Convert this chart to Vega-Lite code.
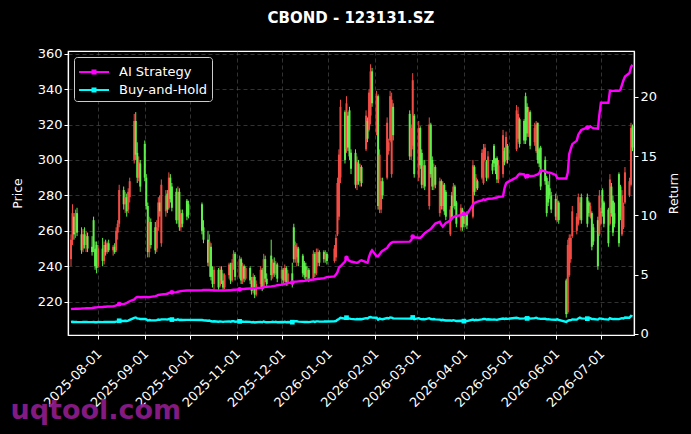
{
  "$schema": "https://vega.github.io/schema/vega-lite/v6.json",
  "width": 566,
  "height": 284,
  "autosize": "none",
  "padding": {"left": 68, "top": 51, "right": 57, "bottom": 99},
  "background": "#000000",
  "title": {"text": "CBOND - 123131.SZ", "color": "#ffffff", "fontSize": 15, "fontWeight": "bold", "font": "DejaVu Sans", "anchor": "middle", "offset": 22},
  "data": {"values": [
    {"d":"2025-07-14","o":244,"h":258,"l":240,"c":255,"a":2.08,"b":1.00},
    {"d":"2025-07-15","o":255,"h":275,"l":252,"c":270,"a":2.10,"b":1.02},
    {"d":"2025-07-16","o":268,"h":270,"l":255,"c":258,"a":2.10,"b":1.00},
    {"d":"2025-07-17","o":259,"h":272,"l":256,"c":270,"a":2.12,"b":1.01},
    {"d":"2025-07-18","o":270,"h":273,"l":257,"c":259,"a":2.12,"b":1.00},
    {"d":"2025-07-21","o":258,"h":262,"l":247,"c":249,"a":2.14,"b":0.99},
    {"d":"2025-07-22","o":250,"h":261,"l":248,"c":258,"a":2.15,"b":1.00},
    {"d":"2025-07-23","o":258,"h":262,"l":250,"c":252,"a":2.15,"b":1.00},
    {"d":"2025-07-24","o":252,"h":260,"l":248,"c":257,"a":2.16,"b":1.01},
    {"d":"2025-07-25","o":257,"h":259,"l":248,"c":250,"a":2.16,"b":1.00},
    {"d":"2025-07-28","o":251,"h":257,"l":246,"c":248,"a":2.18,"b":0.99},
    {"d":"2025-07-29","o":266,"h":268,"l":248,"c":250,"a":2.20,"b":1.00},
    {"d":"2025-07-30","o":250,"h":254,"l":238,"c":240,"a":2.22,"b":0.98},
    {"d":"2025-07-31","o":252,"h":254,"l":236,"c":239,"a":2.23,"b":0.98},
    {"d":"2025-08-01","o":240,"h":252,"l":239,"c":250,"a":2.25,"b":1.00},
    {"d":"2025-08-04","o":250,"h":256,"l":240,"c":243,"a":2.26,"b":0.99},
    {"d":"2025-08-05","o":243,"h":254,"l":241,"c":252,"a":2.28,"b":1.00},
    {"d":"2025-08-06","o":252,"h":255,"l":246,"c":248,"a":2.28,"b":1.00},
    {"d":"2025-08-07","o":248,"h":254,"l":247,"c":253,"a":2.30,"b":1.01},
    {"d":"2025-08-08","o":253,"h":255,"l":248,"c":249,"a":2.30,"b":1.00},
    {"d":"2025-08-11","o":249,"h":252,"l":246,"c":251,"a":2.33,"b":1.00},
    {"d":"2025-08-12","o":251,"h":253,"l":247,"c":248,"a":2.36,"b":1.00},
    {"d":"2025-08-13","o":249,"h":262,"l":248,"c":260,"a":2.40,"b":1.03},
    {"d":"2025-08-14","o":259,"h":266,"l":255,"c":264,"a":2.45,"b":1.05},
    {"d":"2025-08-15","o":264,"h":286,"l":262,"c":283,"a":2.50,"b":1.10},
    {"d":"2025-08-18","o":283,"h":285,"l":272,"c":275,"a":2.52,"b":1.08},
    {"d":"2025-08-19","o":275,"h":282,"l":270,"c":279,"a":2.55,"b":1.10},
    {"d":"2025-08-20","o":279,"h":281,"l":268,"c":271,"a":2.60,"b":1.08},
    {"d":"2025-08-21","o":272,"h":284,"l":270,"c":282,"a":2.68,"b":1.12},
    {"d":"2025-08-22","o":279,"h":290,"l":276,"c":288,"a":2.75,"b":1.18},
    {"d":"2025-08-25","o":300,"h":326,"l":298,"c":322,"a":2.90,"b":1.35},
    {"d":"2025-08-26","o":322,"h":327,"l":300,"c":303,"a":3.05,"b":1.38},
    {"d":"2025-08-27","o":304,"h":310,"l":287,"c":290,"a":3.10,"b":1.30},
    {"d":"2025-08-28","o":290,"h":302,"l":288,"c":299,"a":3.10,"b":1.28},
    {"d":"2025-08-29","o":298,"h":300,"l":282,"c":285,"a":3.08,"b":1.25},
    {"d":"2025-09-01","o":309,"h":311,"l":288,"c":290,"a":3.10,"b":1.26},
    {"d":"2025-09-02","o":290,"h":292,"l":272,"c":274,"a":3.10,"b":1.22},
    {"d":"2025-09-03","o":274,"h":276,"l":245,"c":248,"a":3.08,"b":1.12},
    {"d":"2025-09-04","o":248,"h":268,"l":245,"c":265,"a":3.10,"b":1.16},
    {"d":"2025-09-05","o":265,"h":267,"l":250,"c":252,"a":3.12,"b":1.14},
    {"d":"2025-09-08","o":262,"h":265,"l":247,"c":249,"a":3.18,"b":1.13},
    {"d":"2025-09-09","o":250,"h":266,"l":248,"c":262,"a":3.22,"b":1.15},
    {"d":"2025-09-10","o":262,"h":279,"l":260,"c":276,"a":3.28,"b":1.20},
    {"d":"2025-09-11","o":276,"h":280,"l":268,"c":271,"a":3.30,"b":1.18},
    {"d":"2025-09-12","o":253,"h":289,"l":251,"c":286,"a":3.32,"b":1.22},
    {"d":"2025-09-15","o":271,"h":283,"l":268,"c":280,"a":3.36,"b":1.22},
    {"d":"2025-09-16","o":281,"h":283,"l":270,"c":272,"a":3.38,"b":1.20},
    {"d":"2025-09-17","o":273,"h":293,"l":272,"c":290,"a":3.45,"b":1.25},
    {"d":"2025-09-18","o":290,"h":292,"l":276,"c":278,"a":3.48,"b":1.22},
    {"d":"2025-09-19","o":285,"h":287,"l":271,"c":273,"a":3.50,"b":1.20},
    {"d":"2025-09-22","o":282,"h":284,"l":264,"c":266,"a":3.52,"b":1.18},
    {"d":"2025-09-23","o":266,"h":285,"l":264,"c":282,"a":3.55,"b":1.22},
    {"d":"2025-09-24","o":282,"h":284,"l":260,"c":262,"a":3.58,"b":1.16},
    {"d":"2025-09-25","o":262,"h":272,"l":260,"c":270,"a":3.60,"b":1.19},
    {"d":"2025-09-26","o":270,"h":272,"l":262,"c":264,"a":3.62,"b":1.17},
    {"d":"2025-09-29","o":277,"h":278,"l":266,"c":268,"a":3.65,"b":1.18},
    {"d":"2025-09-30","o":275,"h":277,"l":267,"c":269,"a":3.66,"b":1.18},
    {"d":"2025-10-09","o":275,"h":276,"l":258,"c":260,"a":3.68,"b":1.16},
    {"d":"2025-10-10","o":262,"h":266,"l":253,"c":255,"a":3.70,"b":1.14},
    {"d":"2025-10-13","o":255,"h":260,"l":240,"c":242,"a":3.70,"b":1.10},
    {"d":"2025-10-14","o":240,"h":258,"l":234,"c":254,"a":3.70,"b":1.12},
    {"d":"2025-10-15","o":251,"h":253,"l":232,"c":234,"a":3.68,"b":1.06},
    {"d":"2025-10-16","o":236,"h":240,"l":228,"c":230,"a":3.67,"b":1.04},
    {"d":"2025-10-17","o":230,"h":240,"l":226,"c":238,"a":3.66,"b":1.06},
    {"d":"2025-10-20","o":238,"h":239,"l":226,"c":228,"a":3.65,"b":1.02},
    {"d":"2025-10-21","o":229,"h":240,"l":228,"c":238,"a":3.66,"b":1.05},
    {"d":"2025-10-22","o":238,"h":240,"l":230,"c":232,"a":3.65,"b":1.03},
    {"d":"2025-10-23","o":232,"h":236,"l":226,"c":228,"a":3.64,"b":1.01},
    {"d":"2025-10-24","o":228,"h":236,"l":227,"c":235,"a":3.65,"b":1.03},
    {"d":"2025-10-27","o":235,"h":242,"l":233,"c":241,"a":3.68,"b":1.05},
    {"d":"2025-10-28","o":241,"h":242,"l":230,"c":232,"a":3.68,"b":1.02},
    {"d":"2025-10-29","o":232,"h":244,"l":231,"c":242,"a":3.70,"b":1.06},
    {"d":"2025-10-30","o":242,"h":249,"l":238,"c":247,"a":3.72,"b":1.07},
    {"d":"2025-10-31","o":247,"h":248,"l":232,"c":234,"a":3.72,"b":1.02},
    {"d":"2025-11-03","o":234,"h":246,"l":233,"c":244,"a":3.75,"b":1.05},
    {"d":"2025-11-04","o":244,"h":245,"l":230,"c":232,"a":3.76,"b":1.01},
    {"d":"2025-11-05","o":232,"h":242,"l":230,"c":240,"a":3.78,"b":1.04},
    {"d":"2025-11-06","o":240,"h":241,"l":231,"c":233,"a":3.78,"b":1.01},
    {"d":"2025-11-07","o":233,"h":240,"l":232,"c":239,"a":3.80,"b":1.03},
    {"d":"2025-11-10","o":239,"h":240,"l":230,"c":232,"a":3.82,"b":1.01},
    {"d":"2025-11-11","o":232,"h":234,"l":224,"c":226,"a":3.82,"b":0.97},
    {"d":"2025-11-12","o":227,"h":236,"l":225,"c":234,"a":3.85,"b":1.00},
    {"d":"2025-11-13","o":234,"h":235,"l":222,"c":224,"a":3.85,"b":0.96},
    {"d":"2025-11-14","o":224,"h":232,"l":223,"c":230,"a":3.86,"b":0.98},
    {"d":"2025-11-17","o":230,"h":240,"l":228,"c":238,"a":3.88,"b":1.01},
    {"d":"2025-11-18","o":238,"h":239,"l":226,"c":228,"a":3.88,"b":0.97},
    {"d":"2025-11-19","o":228,"h":247,"l":227,"c":244,"a":3.95,"b":1.04},
    {"d":"2025-11-20","o":244,"h":246,"l":231,"c":233,"a":3.96,"b":0.99},
    {"d":"2025-11-21","o":233,"h":236,"l":228,"c":230,"a":3.97,"b":0.98},
    {"d":"2025-11-24","o":246,"h":255,"l":232,"c":235,"a":4.00,"b":0.99},
    {"d":"2025-11-25","o":235,"h":244,"l":233,"c":242,"a":4.02,"b":1.02},
    {"d":"2025-11-26","o":242,"h":245,"l":234,"c":236,"a":4.04,"b":0.99},
    {"d":"2025-11-27","o":236,"h":243,"l":235,"c":241,"a":4.06,"b":1.01},
    {"d":"2025-11-28","o":241,"h":242,"l":231,"c":233,"a":4.10,"b":0.98},
    {"d":"2025-12-01","o":233,"h":240,"l":230,"c":238,"a":4.15,"b":1.00},
    {"d":"2025-12-02","o":238,"h":239,"l":230,"c":232,"a":4.18,"b":0.98},
    {"d":"2025-12-03","o":232,"h":241,"l":231,"c":239,"a":4.22,"b":1.01},
    {"d":"2025-12-04","o":239,"h":240,"l":229,"c":231,"a":4.25,"b":0.98},
    {"d":"2025-12-05","o":231,"h":238,"l":229,"c":236,"a":4.30,"b":1.00},
    {"d":"2025-12-08","o":236,"h":242,"l":228,"c":230,"a":4.32,"b":0.98},
    {"d":"2025-12-09","o":262,"h":264,"l":242,"c":244,"a":4.38,"b":1.04},
    {"d":"2025-12-10","o":244,"h":254,"l":242,"c":252,"a":4.40,"b":1.07},
    {"d":"2025-12-11","o":245,"h":253,"l":240,"c":251,"a":4.40,"b":1.06},
    {"d":"2025-12-12","o":250,"h":251,"l":240,"c":242,"a":4.42,"b":1.03},
    {"d":"2025-12-15","o":246,"h":247,"l":234,"c":236,"a":4.45,"b":1.01},
    {"d":"2025-12-16","o":242,"h":243,"l":233,"c":235,"a":4.47,"b":1.00},
    {"d":"2025-12-17","o":240,"h":242,"l":232,"c":234,"a":4.50,"b":1.00},
    {"d":"2025-12-18","o":234,"h":240,"l":232,"c":238,"a":4.52,"b":1.01},
    {"d":"2025-12-19","o":238,"h":239,"l":231,"c":233,"a":4.54,"b":0.99},
    {"d":"2025-12-22","o":233,"h":249,"l":232,"c":247,"a":4.58,"b":1.05},
    {"d":"2025-12-23","o":247,"h":248,"l":234,"c":236,"a":4.60,"b":1.00},
    {"d":"2025-12-24","o":236,"h":250,"l":235,"c":248,"a":4.62,"b":1.05},
    {"d":"2025-12-25","o":242,"h":250,"l":240,"c":248,"a":4.64,"b":1.05},
    {"d":"2025-12-26","o":248,"h":249,"l":240,"c":242,"a":4.65,"b":1.03},
    {"d":"2025-12-29","o":248,"h":249,"l":242,"c":244,"a":4.70,"b":1.04},
    {"d":"2025-12-30","o":244,"h":249,"l":242,"c":247,"a":4.74,"b":1.05},
    {"d":"2025-12-31","o":247,"h":248,"l":241,"c":243,"a":4.78,"b":1.04},
    {"d":"2026-01-05","o":243,"h":252,"l":242,"c":250,"a":4.85,"b":1.06},
    {"d":"2026-01-06","o":245,"h":258,"l":243,"c":256,"a":5.00,"b":1.08},
    {"d":"2026-01-07","o":258,"h":290,"l":257,"c":287,"a":5.20,"b":1.18},
    {"d":"2026-01-08","o":268,"h":306,"l":266,"c":303,"a":5.60,"b":1.25},
    {"d":"2026-01-09","o":290,"h":334,"l":287,"c":330,"a":5.70,"b":1.35},
    {"d":"2026-01-12","o":327,"h":328,"l":298,"c":300,"a":6.10,"b":1.28},
    {"d":"2026-01-13","o":306,"h":336,"l":304,"c":332,"a":6.40,"b":1.36},
    {"d":"2026-01-14","o":325,"h":327,"l":305,"c":307,"a":6.25,"b":1.30},
    {"d":"2026-01-15","o":328,"h":330,"l":300,"c":302,"a":6.15,"b":1.28},
    {"d":"2026-01-16","o":304,"h":306,"l":292,"c":295,"a":6.10,"b":1.26},
    {"d":"2026-01-19","o":304,"h":306,"l":284,"c":286,"a":6.02,"b":1.22},
    {"d":"2026-01-20","o":286,"h":302,"l":283,"c":299,"a":6.00,"b":1.25},
    {"d":"2026-01-21","o":298,"h":300,"l":286,"c":288,"a":6.05,"b":1.23},
    {"d":"2026-01-22","o":288,"h":298,"l":285,"c":296,"a":6.15,"b":1.25},
    {"d":"2026-01-23","o":296,"h":297,"l":285,"c":287,"a":6.20,"b":1.23},
    {"d":"2026-01-26","o":306,"h":328,"l":305,"c":325,"a":6.05,"b":1.32},
    {"d":"2026-01-27","o":322,"h":324,"l":310,"c":312,"a":6.00,"b":1.30},
    {"d":"2026-01-28","o":317,"h":340,"l":316,"c":338,"a":6.50,"b":1.38},
    {"d":"2026-01-29","o":325,"h":354,"l":320,"c":350,"a":6.85,"b":1.42},
    {"d":"2026-01-30","o":350,"h":352,"l":330,"c":332,"a":7.05,"b":1.37},
    {"d":"2026-02-02","o":316,"h":339,"l":314,"c":336,"a":6.55,"b":1.36},
    {"d":"2026-02-03","o":336,"h":337,"l":272,"c":274,"a":6.55,"b":1.20},
    {"d":"2026-02-04","o":272,"h":306,"l":270,"c":303,"a":6.70,"b":1.28},
    {"d":"2026-02-05","o":272,"h":290,"l":270,"c":288,"a":6.90,"b":1.25},
    {"d":"2026-02-06","o":288,"h":290,"l":278,"c":280,"a":7.00,"b":1.23},
    {"d":"2026-02-09","o":290,"h":324,"l":289,"c":321,"a":7.25,"b":1.33},
    {"d":"2026-02-10","o":305,"h":312,"l":303,"c":310,"a":7.45,"b":1.30},
    {"d":"2026-02-11","o":311,"h":339,"l":310,"c":336,"a":7.60,"b":1.38},
    {"d":"2026-02-12","o":292,"h":338,"l":290,"c":334,"a":7.70,"b":1.37},
    {"d":"2026-02-13","o":330,"h":332,"l":311,"c":314,"a":7.76,"b":1.30},
    {"d":"2026-02-24","o":326,"h":328,"l":300,"c":302,"a":7.78,"b":1.28},
    {"d":"2026-02-25","o":302,"h":320,"l":300,"c":318,"a":7.90,"b":1.32},
    {"d":"2026-02-26","o":308,"h":349,"l":306,"c":345,"a":8.20,"b":1.38},
    {"d":"2026-02-27","o":325,"h":326,"l":290,"c":292,"a":8.15,"b":1.24},
    {"d":"2026-03-02","o":290,"h":322,"l":288,"c":318,"a":8.10,"b":1.32},
    {"d":"2026-03-03","o":318,"h":319,"l":295,"c":297,"a":8.10,"b":1.26},
    {"d":"2026-03-04","o":304,"h":306,"l":284,"c":286,"a":8.20,"b":1.22},
    {"d":"2026-03-05","o":286,"h":300,"l":284,"c":297,"a":8.35,"b":1.25},
    {"d":"2026-03-06","o":297,"h":300,"l":283,"c":285,"a":8.50,"b":1.22},
    {"d":"2026-03-09","o":274,"h":324,"l":272,"c":320,"a":8.75,"b":1.32},
    {"d":"2026-03-10","o":320,"h":321,"l":290,"c":292,"a":8.85,"b":1.25},
    {"d":"2026-03-11","o":300,"h":302,"l":283,"c":285,"a":9.00,"b":1.22},
    {"d":"2026-03-12","o":285,"h":298,"l":283,"c":296,"a":9.15,"b":1.25},
    {"d":"2026-03-13","o":296,"h":297,"l":284,"c":286,"a":9.30,"b":1.22},
    {"d":"2026-03-16","o":270,"h":290,"l":268,"c":288,"a":9.45,"b":1.20},
    {"d":"2026-03-17","o":288,"h":289,"l":272,"c":274,"a":9.20,"b":1.15},
    {"d":"2026-03-18","o":274,"h":288,"l":272,"c":286,"a":9.05,"b":1.18},
    {"d":"2026-03-19","o":286,"h":287,"l":269,"c":271,"a":9.20,"b":1.14},
    {"d":"2026-03-20","o":282,"h":283,"l":266,"c":268,"a":9.35,"b":1.12},
    {"d":"2026-03-23","o":258,"h":274,"l":257,"c":272,"a":9.55,"b":1.13},
    {"d":"2026-03-24","o":280,"h":282,"l":266,"c":268,"a":9.75,"b":1.11},
    {"d":"2026-03-25","o":274,"h":287,"l":273,"c":285,"a":9.85,"b":1.15},
    {"d":"2026-03-26","o":285,"h":286,"l":272,"c":274,"a":9.90,"b":1.12},
    {"d":"2026-03-27","o":276,"h":277,"l":262,"c":264,"a":9.95,"b":1.08},
    {"d":"2026-03-30","o":262,"h":275,"l":260,"c":273,"a":10.00,"b":1.10},
    {"d":"2026-03-31","o":272,"h":273,"l":260,"c":262,"a":10.05,"b":1.06},
    {"d":"2026-04-01","o":269,"h":271,"l":262,"c":264,"a":10.10,"b":1.07},
    {"d":"2026-04-02","o":264,"h":270,"l":262,"c":268,"a":10.10,"b":1.09},
    {"d":"2026-04-03","o":270,"h":271,"l":261,"c":263,"a":10.10,"b":1.07},
    {"d":"2026-04-07","o":268,"h":300,"l":267,"c":297,"a":10.90,"b":1.20},
    {"d":"2026-04-08","o":296,"h":297,"l":280,"c":282,"a":11.05,"b":1.14},
    {"d":"2026-04-09","o":284,"h":292,"l":282,"c":290,"a":11.10,"b":1.18},
    {"d":"2026-04-10","o":288,"h":289,"l":283,"c":284,"a":11.15,"b":1.16},
    {"d":"2026-04-13","o":290,"h":306,"l":289,"c":304,"a":11.25,"b":1.22},
    {"d":"2026-04-14","o":287,"h":309,"l":286,"c":306,"a":11.35,"b":1.25},
    {"d":"2026-04-15","o":300,"h":309,"l":299,"c":307,"a":11.30,"b":1.25},
    {"d":"2026-04-16","o":299,"h":300,"l":288,"c":290,"a":11.35,"b":1.20},
    {"d":"2026-04-17","o":290,"h":305,"l":289,"c":302,"a":11.40,"b":1.23},
    {"d":"2026-04-20","o":298,"h":300,"l":292,"c":294,"a":11.42,"b":1.20},
    {"d":"2026-04-21","o":308,"h":309,"l":296,"c":298,"a":11.45,"b":1.22},
    {"d":"2026-04-22","o":300,"h":301,"l":292,"c":294,"a":11.48,"b":1.20},
    {"d":"2026-04-23","o":301,"h":302,"l":287,"c":289,"a":11.50,"b":1.18},
    {"d":"2026-04-24","o":289,"h":300,"l":287,"c":297,"a":11.55,"b":1.22},
    {"d":"2026-04-27","o":292,"h":317,"l":290,"c":314,"a":11.60,"b":1.29},
    {"d":"2026-04-28","o":305,"h":307,"l":297,"c":299,"a":12.30,"b":1.25},
    {"d":"2026-04-29","o":300,"h":316,"l":298,"c":313,"a":12.70,"b":1.29},
    {"d":"2026-04-30","o":308,"h":309,"l":298,"c":300,"a":12.80,"b":1.26},
    {"d":"2026-05-06","o":306,"h":331,"l":305,"c":328,"a":13.20,"b":1.35},
    {"d":"2026-05-07","o":312,"h":330,"l":310,"c":326,"a":13.40,"b":1.33},
    {"d":"2026-05-08","o":323,"h":324,"l":307,"c":309,"a":13.50,"b":1.28},
    {"d":"2026-05-11","o":322,"h":323,"l":309,"c":311,"a":13.45,"b":1.30},
    {"d":"2026-05-12","o":336,"h":338,"l":309,"c":311,"a":13.20,"b":1.32},
    {"d":"2026-05-13","o":330,"h":332,"l":313,"c":315,"a":13.30,"b":1.30},
    {"d":"2026-05-14","o":315,"h":330,"l":313,"c":327,"a":13.35,"b":1.34},
    {"d":"2026-05-15","o":327,"h":328,"l":306,"c":308,"a":13.30,"b":1.28},
    {"d":"2026-05-18","o":310,"h":321,"l":308,"c":318,"a":13.35,"b":1.32},
    {"d":"2026-05-19","o":305,"h":322,"l":304,"c":320,"a":13.40,"b":1.36},
    {"d":"2026-05-20","o":321,"h":321,"l":298,"c":300,"a":13.45,"b":1.30},
    {"d":"2026-05-21","o":306,"h":307,"l":296,"c":298,"a":13.55,"b":1.28},
    {"d":"2026-05-22","o":307,"h":308,"l":283,"c":285,"a":13.80,"b":1.26},
    {"d":"2026-05-25","o":300,"h":302,"l":286,"c":288,"a":13.70,"b":1.27},
    {"d":"2026-05-26","o":290,"h":291,"l":268,"c":270,"a":13.65,"b":1.22},
    {"d":"2026-05-27","o":286,"h":288,"l":274,"c":276,"a":13.60,"b":1.24},
    {"d":"2026-05-28","o":284,"h":292,"l":278,"c":280,"a":13.60,"b":1.22},
    {"d":"2026-05-29","o":280,"h":282,"l":270,"c":272,"a":13.55,"b":1.20},
    {"d":"2026-06-01","o":278,"h":281,"l":266,"c":268,"a":13.40,"b":1.19},
    {"d":"2026-06-02","o":266,"h":280,"l":265,"c":277,"a":13.15,"b":1.22},
    {"d":"2026-06-03","o":276,"h":277,"l":264,"c":266,"a":13.10,"b":1.17},
    {"d":"2026-06-08","o":232,"h":233,"l":211,"c":213,"a":13.10,"b":1.00},
    {"d":"2026-06-09","o":214,"h":255,"l":213,"c":252,"a":13.60,"b":1.10},
    {"d":"2026-06-10","o":235,"h":258,"l":234,"c":256,"a":15.20,"b":1.14},
    {"d":"2026-06-11","o":244,"h":258,"l":242,"c":256,"a":15.60,"b":1.15},
    {"d":"2026-06-12","o":257,"h":274,"l":256,"c":271,"a":16.00,"b":1.22},
    {"d":"2026-06-15","o":260,"h":270,"l":258,"c":268,"a":16.30,"b":1.20},
    {"d":"2026-06-16","o":264,"h":281,"l":263,"c":279,"a":16.80,"b":1.30},
    {"d":"2026-06-17","o":267,"h":279,"l":266,"c":276,"a":17.00,"b":1.36},
    {"d":"2026-06-18","o":279,"h":281,"l":264,"c":266,"a":17.20,"b":1.30},
    {"d":"2026-06-22","o":279,"h":281,"l":262,"c":264,"a":17.40,"b":1.28},
    {"d":"2026-06-23","o":276,"h":277,"l":268,"c":270,"a":17.40,"b":1.30},
    {"d":"2026-06-24","o":268,"h":276,"l":267,"c":274,"a":17.50,"b":1.32},
    {"d":"2026-06-25","o":270,"h":271,"l":249,"c":251,"a":17.40,"b":1.24},
    {"d":"2026-06-26","o":262,"h":264,"l":252,"c":254,"a":17.35,"b":1.25},
    {"d":"2026-06-29","o":266,"h":268,"l":238,"c":240,"a":17.30,"b":1.20},
    {"d":"2026-06-30","o":258,"h":283,"l":257,"c":280,"a":18.50,"b":1.30},
    {"d":"2026-07-01","o":264,"h":273,"l":263,"c":271,"a":19.50,"b":1.28},
    {"d":"2026-07-02","o":283,"h":284,"l":268,"c":270,"a":19.50,"b":1.26},
    {"d":"2026-07-03","o":276,"h":277,"l":262,"c":264,"a":19.50,"b":1.24},
    {"d":"2026-07-06","o":272,"h":273,"l":251,"c":253,"a":19.50,"b":1.20},
    {"d":"2026-07-07","o":264,"h":292,"l":263,"c":289,"a":20.50,"b":1.32},
    {"d":"2026-07-08","o":285,"h":287,"l":268,"c":270,"a":20.50,"b":1.27},
    {"d":"2026-07-09","o":277,"h":280,"l":257,"c":259,"a":20.50,"b":1.24},
    {"d":"2026-07-10","o":270,"h":276,"l":262,"c":264,"a":20.50,"b":1.26},
    {"d":"2026-07-13","o":292,"h":293,"l":251,"c":253,"a":20.50,"b":1.24},
    {"d":"2026-07-14","o":285,"h":286,"l":266,"c":268,"a":20.60,"b":1.28},
    {"d":"2026-07-15","o":258,"h":283,"l":257,"c":280,"a":21.00,"b":1.32},
    {"d":"2026-07-16","o":262,"h":276,"l":261,"c":274,"a":21.40,"b":1.30},
    {"d":"2026-07-17","o":276,"h":296,"l":275,"c":293,"a":21.70,"b":1.38},
    {"d":"2026-07-20","o":280,"h":290,"l":279,"c":288,"a":22.00,"b":1.36},
    {"d":"2026-07-21","o":286,"h":321,"l":285,"c":318,"a":22.50,"b":1.52},
    {"d":"2026-07-22","o":319,"h":320,"l":305,"c":307,"a":22.70,"b":1.48}
  ]},
  "encoding": {
    "x": {
      "field": "d", "type": "temporal",
      "scale": {"type": "utc", "domain": [{"year": 2025, "month": 7, "date": 12, "utc": true}, {"year": 2026, "month": 7, "date": 23, "utc": true}]},
      "axis": {
        "values": [
          {"year": 2025, "month": 8, "date": 1, "utc": true},
          {"year": 2025, "month": 9, "date": 1, "utc": true},
          {"year": 2025, "month": 10, "date": 1, "utc": true},
          {"year": 2025, "month": 11, "date": 1, "utc": true},
          {"year": 2025, "month": 12, "date": 1, "utc": true},
          {"year": 2026, "month": 1, "date": 1, "utc": true},
          {"year": 2026, "month": 2, "date": 1, "utc": true},
          {"year": 2026, "month": 3, "date": 1, "utc": true},
          {"year": 2026, "month": 4, "date": 1, "utc": true},
          {"year": 2026, "month": 5, "date": 1, "utc": true},
          {"year": 2026, "month": 6, "date": 1, "utc": true},
          {"year": 2026, "month": 7, "date": 1, "utc": true}
        ],
        "labelExpr": "utcFormat(datum.value, '%Y-%m-%d')",
        "labelOverlap": false,
        "labelAngle": -45, "labelAlign": "right", "labelBaseline": "top", "labelPadding": 8, "labelOffset": -3,
        "grid": true,
        "title": "uqtool.com", "titleColor": "#8b1c8b", "titleFontSize": 27, "titleFontWeight": "bold",
        "titleFont": "DejaVu Sans", "titleX": -58, "titleY": 83, "titleAlign": "left", "titleBaseline": "alphabetic", "titleOpacity": 0.95
      }
    }
  },
  "layer": [
    {
      "encoding": {
        "y": {
          "field": "l", "type": "quantitative",
          "scale": {"domain": [201.2, 361.5], "nice": false, "zero": false},
          "axis": {"orient": "left", "values": [220, 240, 260, 280, 300, 320, 340, 360], "title": "Price", "grid": true, "titlePadding": 13}
        },
        "color": {"condition": {"test": "datum.c >= datum.o", "value": "#f24c44"}, "value": "#5ef04a"}
      },
      "layer": [
        {"mark": {"type": "rule", "strokeWidth": 1}, "encoding": {"y2": {"field": "h"}}},
        {"mark": {"type": "rule", "strokeWidth": 2}, "encoding": {"y": {"field": "o", "type": "quantitative"}, "y2": {"field": "c"}}}
      ]
    },
    {
      "transform": [{"fold": ["a", "b"], "as": ["series", "ret"]}],
      "encoding": {
        "y": {
          "field": "ret", "type": "quantitative",
          "scale": {"domain": [-0.1, 23.86], "nice": false, "zero": false},
          "axis": {"orient": "right", "values": [0, 5, 10, 15, 20], "title": "Return", "titleAngle": 270, "titleBaseline": "top", "grid": false, "titlePadding": 11}
        }
      },
      "layer": [
        {
          "mark": {"type": "line", "strokeWidth": 2.4},
          "encoding": {
            "color": {
              "field": "series", "type": "nominal",
              "scale": {"domain": ["a", "b"], "range": ["#ff00ff", "#00ffff"]},
              "legend": {
                "title": null, "orient": "top-left", "offset": 6,
                "labelExpr": "datum.label == 'a' ? 'AI Strategy' : 'Buy-and-Hold'"
              }
            }
          }
        },
        {
          "transform": [{"filter": "indexof(['2025-08-15','2025-09-19','2025-11-03','2025-12-08','2026-01-13','2026-02-26','2026-04-01','2026-05-13','2026-06-22'], utcFormat(datum.d, '%Y-%m-%d')) >= 0"}],
          "mark": {"type": "point", "filled": true, "opacity": 1, "size": 22},
          "encoding": {
            "color": {"condition": {"test": "datum.series == 'a'", "value": "#ff00ff"}, "value": "#00ffff"},
            "shape": {"condition": {"test": "datum.series == 'a'", "value": "circle"}, "value": "square"}
          }
        }
      ]
    }
  ],
  "resolve": {"scale": {"y": "independent"}},
  "config": {
    "background": "#000000",
    "view": {"stroke": "#ffffff", "strokeWidth": 1.2, "fill": "#000000"},
    "font": "DejaVu Sans",
    "axis": {
      "labelColor": "#ffffff", "tickColor": "#ffffff", "domainColor": "#ffffff", "titleColor": "#ffffff",
      "labelFont": "DejaVu Sans", "titleFont": "DejaVu Sans", "labelFontSize": 13, "titleFontSize": 12.5,
      "titleFontWeight": "normal", "tickSize": 4, "domainWidth": 1.2,
      "gridColor": "#6a6a6a", "gridDash": [4, 3], "gridWidth": 0.6, "gridOpacity": 0.8
    },
    "legend": {
      "fillColor": "#000000", "strokeColor": "#cccccc", "cornerRadius": 3, "padding": 4,
      "labelColor": "#ffffff", "labelFont": "DejaVu Sans", "labelFontSize": 13,
      "symbolType": "M-1,0H2M0.35,-0.15H0.65V0.15H0.35Z", "symbolSize": 400, "symbolStrokeWidth": 2,
      "rowPadding": 0, "labelOffset": 19
    }
  }
}
